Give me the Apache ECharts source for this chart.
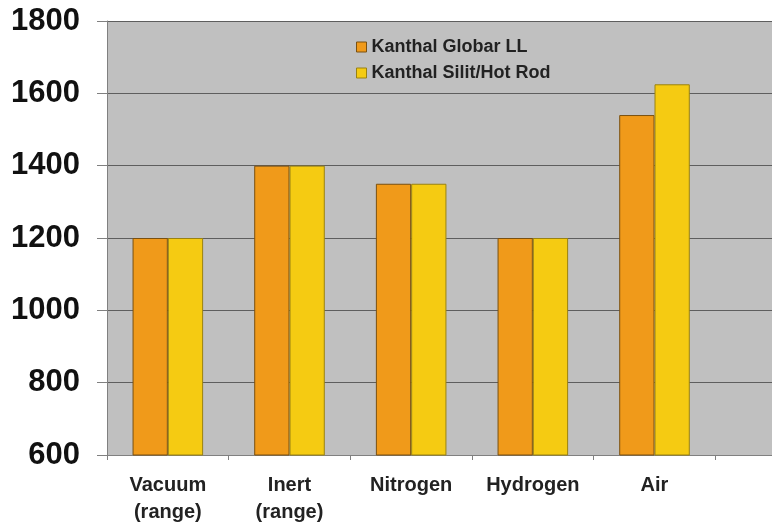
<!DOCTYPE html>
<html><head><meta charset="utf-8">
<script src="https://cdn.jsdelivr.net/npm/echarts@6/dist/echarts.min.js"></script>
<style>html,body{margin:0;padding:0;background:#fff;overflow:hidden}#c{width:837px;height:526px}</style>
</head><body><div id="c"></div>
<script>
var categories = ['Vacuum\n(range)', 'Inert\n(range)', 'Nitrogen', 'Hydrogen', 'Air', ''];
var globarLL = [1200, 1400, 1350, 1200, 1540, null];
var silitHotRod = [1200, 1400, 1350, 1200, 1625, null];
var seriesNames = ['Kanthal Globar LL', 'Kanthal Silit/Hot Rod'];
var yTicks = [600, 800, 1000, 1200, 1400, 1600, 1800];

var chart = echarts.init(document.getElementById('c'), null, {renderer: 'canvas'});
chart.setOption({
  animation: false,
  grid: {left: 107, top: 21, right: 0, bottom: 70, show: true, backgroundColor: '#C0C0C0', borderWidth: 0, containLabel: false},
  legend: {
    orient: 'vertical', left: 351, top: 33, itemWidth: 10, itemHeight: 10, itemGap: 8, icon: 'rect',
    textStyle: {fontFamily: 'Liberation Sans, Arial', fontWeight: 'bold', fontSize: 18, color: '#222'},
    itemStyle: {borderWidth: 1},
    data: seriesNames
  },
  xAxis: {
    type: 'category', data: categories,
    axisLine: {lineStyle: {color: '#808080', width: 1}},
    axisTick: {show: true, alignWithLabel: false, length: 5, lineStyle: {color: '#808080'}},
    axisLabel: {margin: 17, fontFamily: 'Liberation Sans, Arial', fontWeight: 'bold', fontSize: 20, color: '#222', lineHeight: 27, interval: 0},
    splitLine: {show: false}
  },
  yAxis: {
    type: 'value', min: yTicks[0], max: yTicks[yTicks.length - 1], interval: 200,
    axisLine: {show: true, lineStyle: {color: '#808080'}},
    axisTick: {show: true, length: 10, lineStyle: {color: '#808080'}},
    axisLabel: {margin: 27, fontFamily: 'Liberation Sans, Arial', fontWeight: 'bold', fontSize: 31, color: '#111', formatter: function (v) { return String(v); }},
    splitLine: {show: true, lineStyle: {color: '#5e5e5e', width: 1}}
  },
  series: [
    {name: seriesNames[0], type: 'bar', data: globarLL, barGap: '0%', barCategoryGap: '42%',
     itemStyle: {color: '#F09A1A', borderColor: '#7a5010', borderWidth: 1}},
    {name: seriesNames[1], type: 'bar', data: silitHotRod, barGap: '0%', barCategoryGap: '42%',
     itemStyle: {color: '#F5CB12', borderColor: '#9a8210', borderWidth: 1}}
  ]
});
</script></body></html>
